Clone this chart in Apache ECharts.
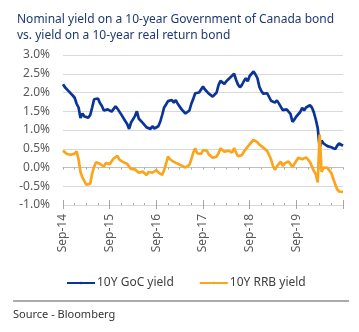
<!DOCTYPE html>
<html>
<head>
<meta charset="utf-8">
<script src="https://cdn.jsdelivr.net/npm/echarts@6/dist/echarts.min.js"></script>
<style>
  html, body { margin: 0; padding: 0; background: #fff; }
  #chart { width: 359px; height: 332px; }
</style>
</head>
<body>
<div id="chart"></div>
<script>
// Semi-monthly observations, 1 Sep 2014 to 1 Sep 2020
const startYear = 2014, startMonth = 8; // September (0-based)
const dates = [];
for (let m = 0; m <= 72; m++) {
  const y = startYear + Math.floor((startMonth + m) / 12);
  const mo = (startMonth + m) % 12 + 1;
  const mm = String(mo).padStart(2, '0');
  dates.push(y + '-' + mm + '-01');
  if (m < 72) dates.push(y + '-' + mm + '-15');
}

// Labelled years on the date axis
const tickLabels = ['Sep-14', 'Sep-15', 'Sep-16', 'Sep-17', 'Sep-18', 'Sep-19'];

// 10-year Government of Canada nominal yield (%)
const gocYield = [
  2.22, 2.14, 2.12, 2.03, 2.06, 1.92, 1.86, 1.70, 1.60, 1.32,
  1.44, 1.36, 1.39, 1.33, 1.40, 1.60, 1.82, 1.86, 1.84, 1.72,
  1.64, 1.52, 1.50, 1.55, 1.50, 1.49, 1.47, 1.63, 1.57, 1.55,
  1.41, 1.36, 1.24, 1.16, 1.03, 1.20, 1.23, 1.37, 1.50, 1.30,
  1.26, 1.19, 1.17, 1.07, 1.07, 1.03, 1.10, 1.04, 1.05, 1.10,
  1.22, 1.40, 1.60, 1.68, 1.77, 1.76, 1.80, 1.73, 1.80, 1.70,
  1.68, 1.55, 1.54, 1.44, 1.49, 1.52, 1.70, 1.83, 1.98, 1.97,
  2.00, 2.05, 2.16, 2.08, 2.07, 1.97, 1.96, 1.89, 1.90, 2.00,
  2.20, 2.31, 2.35, 2.23, 2.30, 2.29, 2.40, 2.41, 2.50, 2.34,
  2.21, 2.14, 2.20, 2.30, 2.38, 2.30, 2.44, 2.48, 2.56, 2.48,
  2.38, 2.15, 2.04, 1.97, 1.99, 1.98, 1.95, 1.78, 1.78, 1.73,
  1.79, 1.71, 1.69, 1.53, 1.52, 1.55, 1.54, 1.43, 1.22, 1.28,
  1.36, 1.42, 1.48, 1.59, 1.52, 1.60, 1.63, 1.66, 1.60, 1.47,
  1.28, 1.05, 0.52, 0.72, 0.64, 0.62, 0.57, 0.58, 0.54, 0.55,
  0.49, 0.58, 0.64, 0.60, 0.58
];

// 10-year real return bond yield (%)
const rrbYield = [
  0.45, 0.40, 0.36, 0.39, 0.34, 0.31, 0.37, 0.43, 0.22, -0.12,
  -0.27, -0.36, -0.46, -0.47, -0.43, -0.16, 0.02, 0.14, 0.19, 0.10,
  0.07, 0.02, 0.12, 0.07, 0.09, 0.13, 0.24, 0.25, 0.31, 0.21,
  0.19, 0.14, 0.18, 0.10, 0.02, -0.04, 0.00, -0.05, -0.06, -0.14,
  -0.12, -0.11, -0.14, -0.20, -0.12, -0.13, -0.14, -0.09, -0.07, -0.13,
  -0.15, -0.20, -0.07, 0.10, 0.29, 0.22, 0.21, 0.15, 0.15, 0.10,
  0.10, 0.05, 0.06, 0.00, 0.02, 0.07, 0.22, 0.40, 0.51, 0.38,
  0.39, 0.36, 0.46, 0.50, 0.45, 0.35, 0.31, 0.26, 0.27, 0.29,
  0.38, 0.51, 0.55, 0.42, 0.47, 0.45, 0.42, 0.40, 0.52, 0.40,
  0.30, 0.26, 0.33, 0.42, 0.49, 0.50, 0.62, 0.68, 0.74, 0.69,
  0.67, 0.61, 0.61, 0.53, 0.52, 0.44, 0.39, 0.22, 0.04, -0.06,
  0.03, 0.08, 0.16, 0.04, 0.11, 0.15, 0.16, 0.09, 0.01, 0.06,
  0.18, 0.26, 0.28, 0.22, 0.24, 0.27, 0.25, 0.15, 0.03, -0.09,
  -0.18, -0.40, 0.88, -0.12, 0.00, -0.03, -0.01, -0.06, -0.15, -0.30,
  -0.45, -0.58, -0.64, -0.68, -0.65
];

const FONT = '"Noto Sans", "Open Sans", sans-serif';
const BLUE = '#0a3597';
const ORANGE = '#fba51c';
const TICK = '#a6a6a6';

const chart = echarts.init(document.getElementById('chart'), null, { renderer: 'canvas' });

const isSeptember = (i) => dates[i].slice(5) === '09-01';
const sepLabel = (value) => {
  const lbl = 'Sep-' + value.slice(2, 4);
  return tickLabels.indexOf(lbl) >= 0 ? lbl : '';
};

// helper for the stacked category axes sharing the 0% line
const zeroAxis = (inside, length, every) => ({
  type: 'category',
  data: dates,
  boundaryGap: false,
  position: 'bottom',
  axisLine: { show: false, onZero: true },
  axisTick: { show: true, inside: inside, length: length, interval: every, lineStyle: { color: TICK } },
  axisLabel: { show: false }
});

chart.setOption({
  animation: false,
  textStyle: { fontFamily: FONT },
  title: {
    text: 'Nominal yield on a 10-year Government of Canada bond\nvs. yield on a 10-year real return bond',
    left: 12,
    top: 7,
    textStyle: {
      fontFamily: FONT,
      fontSize: 12,
      fontWeight: 'normal',
      color: '#1d3a72',
      lineHeight: 16
    }
  },
  legend: {
    left: 61,
    top: 272,
    itemWidth: 28,
    itemHeight: 3,
    itemGap: 25,
    textStyle: { fontFamily: FONT, fontSize: 12, color: '#404040', padding: [0, 0, 0, -3] },
    data: ['10Y GoC yield', '10Y RRB yield']
  },
  grid: { left: 63, right: 16, top: 55, bottom: 127, containLabel: false },
  xAxis: [
    {
      // date labels along the bottom
      type: 'category',
      data: dates,
      boundaryGap: false,
      position: 'bottom',
      axisLine: { show: false, onZero: false },
      axisTick: { show: false },
      splitLine: { show: false },
      axisLabel: {
        rotate: 90,
        margin: 9,
        fontSize: 12,
        color: '#595959',
        fontFamily: FONT,
        interval: (i) => isSeptember(i) && i < dates.length - 1,
        formatter: sepLabel
      }
    },
    {
      // axis line at 0% with quarterly ticks
      type: 'category',
      data: dates,
      boundaryGap: false,
      position: 'bottom',
      axisLine: { show: true, onZero: true, lineStyle: { color: '#bfbfbf', width: 1 } },
      axisTick: { show: true, length: 2, interval: (i) => i % 6 === 0, lineStyle: { color: TICK } },
      axisLabel: { show: false }
    },
    zeroAxis(true, 2, (i) => i % 6 === 0),
    zeroAxis(false, 4, (i) => isSeptember(i)),
    zeroAxis(true, 5, (i) => isSeptember(i))
  ],
  yAxis: {
    type: 'value',
    min: -1,
    max: 3,
    interval: 0.5,
    axisLine: { show: false },
    axisTick: { show: false },
    splitLine: { lineStyle: { color: '#d9d9d9', width: 1 } },
    axisLabel: {
      margin: 13,
      fontSize: 12,
      color: '#595959',
      fontFamily: FONT,
      formatter: (v) => v.toFixed(1) + '%'
    }
  },
  series: [
    {
      name: '10Y GoC yield',
      type: 'line',
      xAxisIndex: 0,
      data: gocYield,
      showSymbol: false,
      symbol: 'none',
      lineStyle: { color: BLUE, width: 2.7 },
      itemStyle: { color: BLUE }
    },
    {
      name: '10Y RRB yield',
      type: 'line',
      xAxisIndex: 0,
      data: rrbYield,
      showSymbol: false,
      symbol: 'none',
      lineStyle: { color: ORANGE, width: 2.7 },
      itemStyle: { color: ORANGE }
    }
  ],
  graphic: [
    {
      type: 'line',
      shape: { x1: 13, y1: 301, x2: 349, y2: 301 },
      style: { stroke: '#595959', lineWidth: 1.2 }
    },
    {
      type: 'text',
      left: 13,
      top: 309,
      style: { text: 'Source - Bloomberg', font: '11px ' + FONT, fill: '#333333' }
    }
  ]
});
</script>
</body>
</html>
